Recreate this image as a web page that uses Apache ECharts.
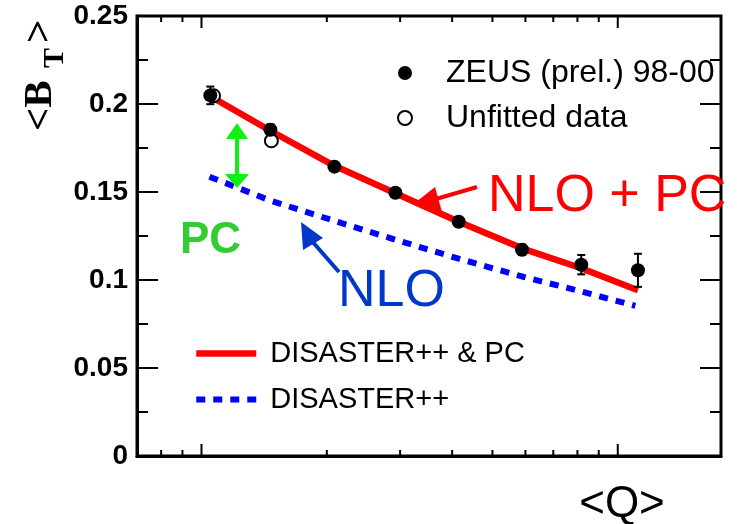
<!DOCTYPE html>
<html>
<head>
<meta charset="utf-8">
<script src="https://cdn.jsdelivr.net/npm/echarts@6/dist/echarts.min.js"></script>
<style>
  html, body { margin: 0; padding: 0; background: #fff; }
  #chart { width: 737px; height: 524px; }
</style>
</head>
<body>
<div id="chart"></div>
<script>
// Mean <Q> (GeV) of each bin and the measured mean B_T with its error
const qData = [10.5, 14.64, 20.86, 29.23, 41.48, 58.88, 81.72, 111.8];
const btData = [0.2049, 0.1854, 0.1644, 0.1496, 0.1331, 0.1172, 0.1087, 0.1055];
const btErr = [0.005, 0.003, 0.002, 0.002, 0.002, 0.003, 0.0055, 0.0094];

// Bins left out of the fit
const qUnfitted = [10.69, 14.72];
const btUnfitted = [0.2047, 0.1791];

// DISASTER++ & power corrections
const qNloPc = [10.5, 14.64, 20.86, 29.23, 41.48, 58.88, 81.72, 111.8];
const btNloPc = [0.2044, 0.1848, 0.1649, 0.1493, 0.1331, 0.1180, 0.1067, 0.0942];

// DISASTER++ alone
const qNlo = [10.45, 14.64, 20.86, 29.23, 41.48, 58.88, 81.72, 110.2];
const btNlo = [0.1587, 0.1451, 0.1336, 0.1229, 0.1121, 0.1020, 0.0935, 0.0853];

// Tick values: log <Q> axis and linear <B_T> axis
const qTicks = [8, 9, 10, 20, 30, 40, 50, 60, 70, 80, 90, 100];
const qMajorTicks = [10, 100];
const btTicks = [0.025, 0.05, 0.075, 0.1, 0.125, 0.15, 0.175, 0.2, 0.225];
const btMajorTicks = [0.05, 0.1, 0.15, 0.2];

// Axis ranges
const qRange = [7, 177];
const btRange = [0, 0.25];
const btStep = 0.05;

const SANS = '"Liberation Sans", Arial, Helvetica, sans-serif';
const SERIF = '"Liberation Serif", "Times New Roman", serif';

const zip = (xs, ys) => xs.map((x, i) => [x, ys[i]]);

const chart = echarts.init(document.getElementById('chart'));

const option = {
  animation: false,
  grid: {
    left: 137, right: 16, top: 16, bottom: 68,
    show: true, borderColor: '#000', borderWidth: 3, backgroundColor: 'transparent'
  },
  xAxis: {
    type: 'log',
    logBase: 10,
    min: qRange[0],
    max: qRange[1],
    splitLine: { show: false },
    axisTick: { show: false },
    axisLabel: { show: false },
    axisLine: { show: true, onZero: false, lineStyle: { color: '#000', width: 3 } }
  },
  yAxis: {
    type: 'value',
    min: btRange[0],
    max: btRange[1],
    interval: btStep,
    splitLine: { show: false },
    axisLine: { show: true, lineStyle: { color: '#000', width: 3 } },
    axisTick: { show: true, inside: true, length: 21, lineStyle: { color: '#000', width: 2 } },
    axisLabel: {
      show: true, margin: 9, color: '#000', fontFamily: SANS, fontWeight: 'bold', fontSize: 28,
      formatter: v => String(+v.toFixed(2))
    }
  },
  legend: [
    {
      data: ['ZEUS (prel.) 98-00', 'Unfitted data'],
      orient: 'vertical',
      left: 397, top: 57, padding: 0,
      itemWidth: 14, itemHeight: 14, itemGap: 13,
      selectedMode: false,
      textStyle: { fontFamily: SANS, fontSize: 32, lineHeight: 30, color: '#000', padding: [0, 0, 0, 29] }
    },
    {
      data: [
        { name: 'DISASTER++ & PC', lineStyle: { color: '#ff0000', width: 6.5, type: 'solid' } },
        { name: 'DISASTER++', lineStyle: { color: '#0000ff', width: 6, type: [9, 8] } }
      ],
      orient: 'vertical',
      left: 193, top: 339, padding: 0,
      itemWidth: 60, itemHeight: 14, itemGap: 17,
      selectedMode: false,
      itemStyle: { color: 'transparent', borderWidth: 0 },
      textStyle: { fontFamily: SANS, fontSize: 29, lineHeight: 28, color: '#000', padding: [0, 0, 0, 9] }
    }
  ],
  series: [
    {
      // ticks on the bottom and top edges of the log <Q> axis
      type: 'custom',
      silent: true,
      clip: false,
      z: 10,
      encode: { x: 0, y: 1 },
      data: qTicks.map(v => [v, btRange[0], qMajorTicks.includes(v) ? 1 : 0]),
      renderItem: (params, api) => {
        const x = api.coord([api.value(0), btRange[0]])[0];
        const len = api.value(2) ? 12 : 6;
        const cs = params.coordSys;
        return {
          type: 'group',
          children: [
            { type: 'line', shape: { x1: x, y1: cs.y + cs.height, x2: x, y2: cs.y + cs.height - len },
              style: { stroke: '#000', lineWidth: 2 } },
            { type: 'line', shape: { x1: x, y1: cs.y, x2: x, y2: cs.y + len },
              style: { stroke: '#000', lineWidth: 2 } }
          ]
        };
      }
    },
    {
      // major and minor ticks on the left and right edges of the <B_T> axis
      type: 'custom',
      silent: true,
      clip: false,
      z: 10,
      encode: { x: 0, y: 1 },
      data: btTicks.map(v => [10, v, btMajorTicks.includes(v) ? 1 : 0]),
      renderItem: (params, api) => {
        const y = api.coord([10, api.value(1)])[1];
        const len = api.value(2) ? 21 : 11;
        const cs = params.coordSys;
        return {
          type: 'group',
          children: [
            { type: 'rect', shape: { x: cs.x, y: y - 1, width: len, height: 2 },
              style: { fill: '#000' } },
            { type: 'rect', shape: { x: cs.x + cs.width - len, y: y - 1, width: len, height: 2 },
              style: { fill: '#000' } }
          ]
        };
      }
    },
    {
      name: 'DISASTER++',
      type: 'line',
      data: zip(qNlo, btNlo),
      symbol: 'none',
      z: 2,
      lineStyle: { color: '#0000ff', width: 6, type: [9, 8], cap: 'butt' },
      itemStyle: { color: '#0000ff' }
    },
    {
      name: 'DISASTER++ & PC',
      type: 'line',
      data: zip(qNloPc, btNloPc),
      symbol: 'none',
      z: 3,
      lineStyle: { color: '#ff0000', width: 6.5 },
      itemStyle: { color: '#ff0000' }
    },
    {
      name: 'Unfitted data',
      type: 'scatter',
      data: zip(qUnfitted, btUnfitted),
      symbol: 'circle',
      symbolSize: 13,
      z: 4,
      itemStyle: { color: '#fff', borderColor: '#000', borderWidth: 2, opacity: 1 }
    },
    {
      // statistical error bars
      type: 'custom',
      silent: true,
      z: 5,
      encode: { x: 0, y: [1, 2] },
      data: qData.map((q, i) => [q, btData[i] - btErr[i], btData[i] + btErr[i]]),
      renderItem: (params, api) => {
        const lo = api.coord([api.value(0), api.value(1)]);
        const hi = api.coord([api.value(0), api.value(2)]);
        const w = 4;
        const st = { stroke: '#000', lineWidth: 2 };
        return {
          type: 'group',
          children: [
            { type: 'line', shape: { x1: lo[0], y1: lo[1], x2: hi[0], y2: hi[1] }, style: st },
            { type: 'line', shape: { x1: lo[0] - w, y1: lo[1], x2: lo[0] + w, y2: lo[1] }, style: st },
            { type: 'line', shape: { x1: hi[0] - w, y1: hi[1], x2: hi[0] + w, y2: hi[1] }, style: st }
          ]
        };
      }
    },
    {
      name: 'ZEUS (prel.) 98-00',
      type: 'scatter',
      data: zip(qData, btData),
      symbol: 'circle',
      symbolSize: 14,
      z: 6,
      itemStyle: { color: '#000', opacity: 1 }
    }
  ],
  graphic: [
    // axis titles
    { type: 'text', x: 40, y: 131, rotation: Math.PI / 2, z: 20,
      style: { text: '<B', font: 'bold 41px ' + SERIF, fill: '#000', align: 'left', verticalAlign: 'middle' } },
    { type: 'text', x: 55, y: 68, rotation: Math.PI / 2, z: 20,
      style: { text: 'T', font: 'bold 30px ' + SERIF, fill: '#000', align: 'left', verticalAlign: 'middle' } },
    { type: 'text', x: 40, y: 43, rotation: Math.PI / 2, z: 20,
      style: { text: '>', font: 'bold 41px ' + SERIF, fill: '#000', align: 'left', verticalAlign: 'middle' } },
    { type: 'text', x: 622, y: 505, z: 20,
      style: { text: '<Q>', font: '44px ' + SANS, fill: '#000', align: 'center', verticalAlign: 'middle' } },

    // curve labels
    { type: 'text', x: 488, y: 197, z: 1,
      style: { text: 'NLO + PC', font: '52px ' + SANS, fill: '#ff0000', align: 'left', verticalAlign: 'middle' } },
    { type: 'text', x: 338, y: 292, z: 20,
      style: { text: 'NLO', font: '52px ' + SANS, fill: '#0038c8', align: 'left', verticalAlign: 'middle' } },
    { type: 'text', x: 180, y: 241, z: 20,
      style: { text: 'PC', font: 'bold 44px ' + SANS, fill: '#33cc33', align: 'left', verticalAlign: 'middle' } },

    // red arrow towards the NLO + PC curve
    { type: 'line', z: 20, shape: { x1: 477, y1: 187, x2: 436, y2: 199 },
      style: { stroke: '#ff0000', lineWidth: 4 } },
    { type: 'polygon', z: 20, shape: { points: [[416, 202], [435, 187], [442, 212]] },
      style: { fill: '#ff0000' } },

    // blue arrow towards the NLO curve
    { type: 'line', z: 20, shape: { x1: 339, y1: 272, x2: 311, y2: 240 },
      style: { stroke: '#0038c8', lineWidth: 4 } },
    { type: 'polygon', z: 20, shape: { points: [[301, 222], [323, 238], [303, 250]] },
      style: { fill: '#0038c8' } },

    // green double arrow marking the power correction
    { type: 'line', z: 20, shape: { x1: 237, y1: 136, x2: 237, y2: 176 },
      style: { stroke: '#11ee11', lineWidth: 4 } },
    { type: 'polygon', z: 20, shape: { points: [[237, 123], [226, 139], [248, 139]] },
      style: { fill: '#11ee11' } },
    { type: 'polygon', z: 20, shape: { points: [[237, 188], [225, 174], [249, 174]] },
      style: { fill: '#11ee11' } }
  ]
};

chart.setOption(option);
</script>
</body>
</html>
